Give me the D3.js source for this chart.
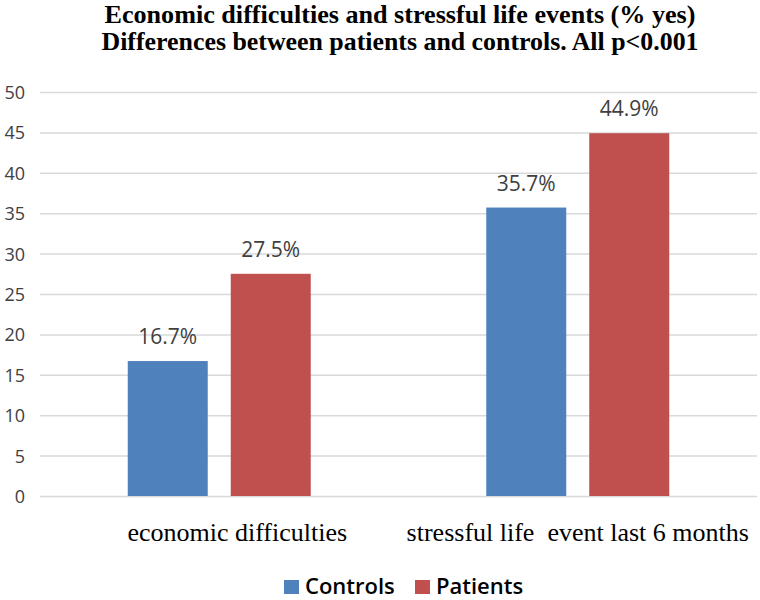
<!DOCTYPE html>
<html><head><meta charset="utf-8">
<script src="https://cdn.jsdelivr.net/npm/d3@7"></script>
<style>body{margin:0;background:#fff}</style>
</head><body>
<svg id="c" width="760" height="600"></svg>
<script>
const categories = ["economic difficulties", "stressful life  event last 6 months"];
const seriesNames = ["Controls", "Patients"];
const controls = [16.7, 35.7];
const patients = [27.5, 44.9];
const yTicks = [0, 5, 10, 15, 20, 25, 30, 35, 40, 45, 50];
const titleLines = ["Economic difficulties and stressful life events (% yes)", "Differences between patients and controls. All p<0.001"];
const colors = ["#4F81BD", "#C0504D"];

const svg = d3.select("#c");
const seriesVals = [controls, patients];

const x0 = d3.scaleBand().domain(categories).range([40, 757]);
const bw = x0.bandwidth();
const x1 = d3.scaleBand().domain(seriesNames).range([bw/2 - 91.5, bw/2 + 91.5]).paddingInner(23/103);
const y = d3.scaleLinear().domain([0, 50]).range([496, 92]);

// gridlines
const yAxis = d3.axisLeft(y).tickValues(yTicks).tickSize(-(757-40)).tickPadding(15).tickFormat(d3.format("d"));
const ga = svg.append("g").attr("transform", "translate(40,0)").call(yAxis);
ga.select(".domain").remove();
ga.selectAll(".tick line").attr("stroke", "#d9d9d9").attr("stroke-width", 1.5);
ga.selectAll(".tick text").attr("font-family", "'Open Sans', sans-serif").attr("font-size", 18).attr("fill", "#404040").attr("x", -15).attr("dy", "0.36em");

// bars
categories.forEach((c, i) => {
  const g = svg.append("g").attr("transform", `translate(${x0(c)},0)`);
  seriesNames.forEach((s, j) => {
    const v = seriesVals[j][i];
    g.append("rect")
      .attr("x", x1(s)).attr("width", x1.bandwidth())
      .attr("y", y(v)).attr("height", y(0) - y(v))
      .attr("fill", colors[j]);
    g.append("text")
      .attr("x", x1(s) + x1.bandwidth()/2).attr("y", y(v) - 17)
      .attr("text-anchor", "middle")
      .attr("font-family", "'Open Sans', sans-serif").attr("font-size", 21)
      .attr("fill", "#404040")
      .text(v.toFixed(1) + "%");
  });
});

// category labels
const catDx = [18, 0];
const xAxis = d3.axisBottom(x0).tickSize(0).tickPadding(0);
const gx = svg.append("g").attr("transform", "translate(0,541)").call(xAxis);
gx.select(".domain").remove();
gx.selectAll(".tick text")
  .attr("font-family", "'Liberation Serif', 'Times New Roman', serif")
  .attr("font-size", 26).attr("fill", "#000")
  .attr("y", 0).attr("dy", 0)
  .attr("dx", (d, i) => catDx[i])
  .style("white-space", "pre");

// title
svg.append("g").selectAll("text").data(titleLines).join("text")
  .attr("x", 400).attr("y", (d, i) => 23 + i * 27)
  .attr("text-anchor", "middle")
  .attr("font-family", "'Liberation Serif', 'Times New Roman', serif")
  .attr("font-weight", "bold").attr("font-size", 25)
  .attr("textLength", (d, i) => i === 0 ? 591 : 597)
  .attr("lengthAdjust", "spacingAndGlyphs")
  .text(d => d);

// legend
const legendX = [284, 415];
const lg = svg.append("g");
seriesNames.forEach((s, j) => {
  lg.append("rect").attr("x", legendX[j]).attr("y", 580).attr("width", 15).attr("height", 14).attr("fill", colors[j]);
  lg.append("text").attr("x", legendX[j] + 21).attr("y", 594)
    .attr("font-family", "'Open Sans', sans-serif").attr("font-weight", 600).attr("font-size", 22)
    .attr("fill", "#000").text(s);
});
</script>
</body></html>
